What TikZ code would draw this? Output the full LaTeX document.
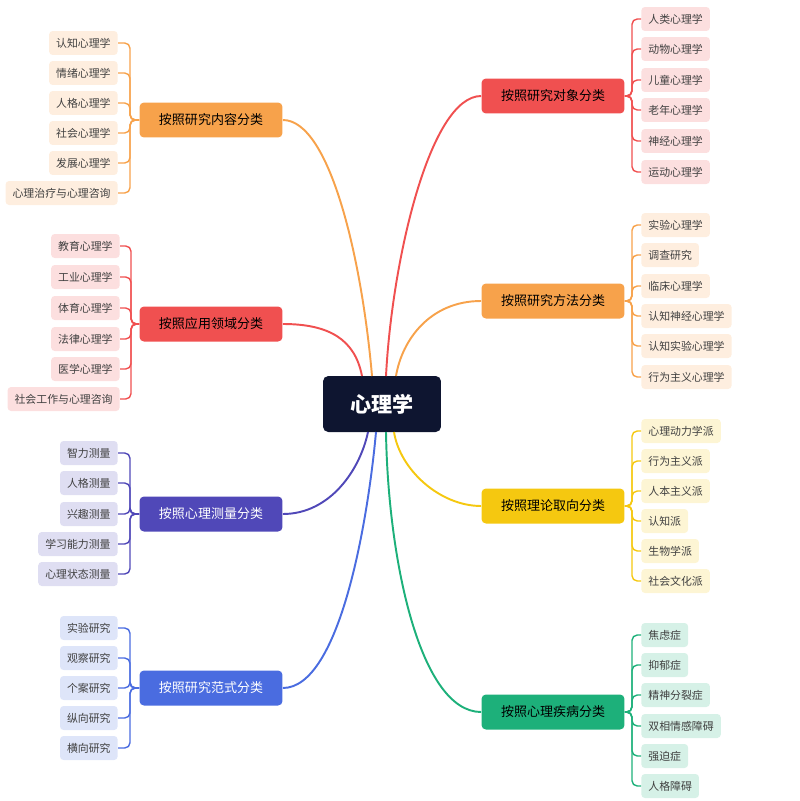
\documentclass[tikz,border=0pt]{standalone}
\usepackage{fontspec}
\setmainfont{Noto Sans CJK SC}
\definecolor{RootNavy}{RGB}{14, 21, 48}
\definecolor{CatOrange}{RGB}{247, 162, 75}
\definecolor{CatRed}{RGB}{240, 80, 80}
\definecolor{CatPurple}{RGB}{80, 72, 184}
\definecolor{CatBlue}{RGB}{74, 108, 224}
\definecolor{CatYellow}{RGB}{245, 200, 16}
\definecolor{CatGreen}{RGB}{29, 176, 122}
\usetikzlibrary{positioning, calc}

\tikzset{
  rootbox/.style={draw=none, fill=RootNavy, text=white, rounded corners=3pt,
    minimum width=2.36cm, minimum height=1.12cm, font=\fontsize{12}{14}\selectfont\bfseries},
  catbox/.style={draw=none, fill=#1, rounded corners=2.5pt, minimum width=2.86cm,
    minimum height=0.7cm, font=\fontsize{7.4}{9}\selectfont},
  leafbox/.style={draw=none, fill=#1!18, rounded corners=2pt, minimum height=0.48cm,
    inner xsep=4pt, text=black!75, font=\fontsize{6.2}{8}\selectfont},
  link/.style={line width=1.1pt, draw=#1},
  twig/.style={line width=0.8pt, draw=#1, rounded corners=3pt},
}

\begin{document}
\begin{tikzpicture}[x=0.02cm, y=-0.02cm]
  \useasboundingbox (0,0) rectangle (800,801);

  \node[rootbox] (root) at (382,404) {心理学};

  % left side categories
  \node[catbox=CatOrange] (content) at (211,120) {按照研究内容分类};
  \node[catbox=CatRed] (applied) at (211,324) {按照应用领域分类};
  \node[catbox=CatPurple, text=white] (measure) at (211,514) {按照心理测量分类};
  \node[catbox=CatBlue, text=white] (paradigm) at (211,688) {按照研究范式分类};

  % right side categories
  \node[catbox=CatRed] (object) at (553,96) {按照研究对象分类};
  \node[catbox=CatOrange] (method) at (553,301) {按照研究方法分类};
  \node[catbox=CatYellow] (theory) at (553,506) {按照理论取向分类};
  \node[catbox=CatGreen] (disorder) at (553,712) {按照心理疾病分类};

  % links from the root
  \draw[link=CatOrange] (content.east) .. controls (330,120) and (362,260) .. (372,376);
  \draw[link=CatRed] (applied.east) .. controls (330,324) and (355,340) .. (362,376);
  \draw[link=CatPurple] (measure.east) .. controls (330,514) and (360,470) .. (368,432);
  \draw[link=CatBlue] (paradigm.east) .. controls (340,688) and (368,520) .. (376,432);
  \draw[link=CatRed] (object.west) .. controls (430,96) and (392,260) .. (386,376);
  \draw[link=CatOrange] (method.west) .. controls (430,301) and (402,340) .. (396,376);
  \draw[link=CatYellow] (theory.west) .. controls (440,506) and (400,470) .. (394,432);
  \draw[link=CatGreen] (disorder.west) .. controls (420,712) and (388,560) .. (386,432);

  % leaves, left
  \foreach \txt/\y [count=\i] in {认知心理学/43, 情绪心理学/73, 人格心理学/103,
      社会心理学/133, 发展心理学/163, 心理治疗与心理咨询/193} {
    \node[leafbox=CatOrange, anchor=east] (content\i) at (118,\y) {\txt};
    \draw[twig=CatOrange] (content.west) -- (130,120) |- (content\i.east);
  }
  \foreach \txt/\y [count=\i] in {教育心理学/246, 工业心理学/277, 体育心理学/308,
      法律心理学/339, 医学心理学/369, 社会工作与心理咨询/399} {
    \node[leafbox=CatRed, anchor=east] (applied\i) at (120,\y) {\txt};
    \draw[twig=CatRed] (applied.west) -- (131,324) |- (applied\i.east);
  }
  \foreach \txt/\y [count=\i] in {智力测量/453, 人格测量/483, 兴趣测量/514,
      学习能力测量/544, 心理状态测量/574} {
    \node[leafbox=CatPurple, anchor=east] (measure\i) at (118,\y) {\txt};
    \draw[twig=CatPurple] (measure.west) -- (130,514) |- (measure\i.east);
  }
  \foreach \txt/\y [count=\i] in {实验研究/628, 观察研究/658, 个案研究/688,
      纵向研究/718, 横向研究/748} {
    \node[leafbox=CatBlue, anchor=east] (paradigm\i) at (118,\y) {\txt};
    \draw[twig=CatBlue] (paradigm.west) -- (130,688) |- (paradigm\i.east);
  }

  % leaves, right
  \foreach \txt/\y [count=\i] in {人类心理学/19, 动物心理学/49, 儿童心理学/80,
      老年心理学/110, 神经心理学/141, 运动心理学/172} {
    \node[leafbox=CatRed, anchor=west] (object\i) at (641,\y) {\txt};
    \draw[twig=CatRed] (object.east) -- (632,96) |- (object\i.west);
  }
  \foreach \txt/\y [count=\i] in {实验心理学/225, 调查研究/255, 临床心理学/286,
      认知神经心理学/316, 认知实验心理学/346, 行为主义心理学/377} {
    \node[leafbox=CatOrange, anchor=west] (method\i) at (641,\y) {\txt};
    \draw[twig=CatOrange] (method.east) -- (632,301) |- (method\i.west);
  }
  \foreach \txt/\y [count=\i] in {心理动力学派/431, 行为主义派/461, 人本主义派/491,
      认知派/521, 生物学派/551, 社会文化派/581} {
    \node[leafbox=CatYellow, anchor=west] (theory\i) at (641,\y) {\txt};
    \draw[twig=CatYellow] (theory.east) -- (632,506) |- (theory\i.west);
  }
  \foreach \txt/\y [count=\i] in {焦虑症/635, 抑郁症/665, 精神分裂症/695,
      双相情感障碍/726, 强迫症/756, 人格障碍/786} {
    \node[leafbox=CatGreen, anchor=west] (disorder\i) at (641,\y) {\txt};
    \draw[twig=CatGreen] (disorder.east) -- (632,712) |- (disorder\i.west);
  }
\end{tikzpicture}
\end{document}
